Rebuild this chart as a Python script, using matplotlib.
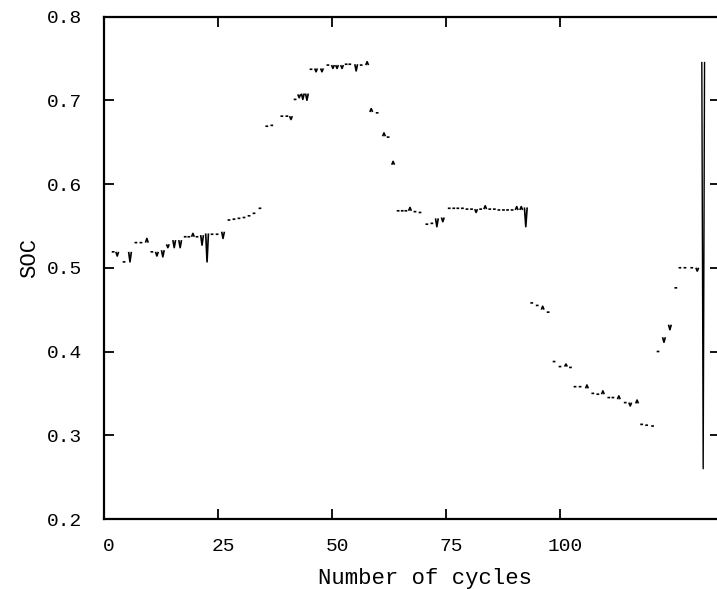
import matplotlib
matplotlib.use("Agg")
import matplotlib.pyplot as plt
from matplotlib.transforms import ScaledTranslation
import numpy as np

# one short dash per recorded cycle: cycle position, SOC level and the size
# of the little dip (<0) or spike (>0) inside the dash (0 = flat dash)
cycles = [2.0, 2.9, 4.4, 5.7, 7.0, 8.1, 9.4, 10.5, 11.6, 12.9,
          14.0, 15.4, 16.7, 17.8, 18.6, 19.5, 20.4, 21.5, 22.6, 23.7,
          24.8, 26.1, 27.4, 28.5, 29.6, 30.7, 31.8, 32.9, 34.2, 35.7,
          36.8, 39.0, 40.1, 41.0, 41.9, 42.8, 43.6, 44.5, 45.4, 46.5,
          47.8, 49.1, 50.2, 51.1, 52.2, 53.1, 53.9, 55.3, 56.4, 57.7,
          58.6, 59.9, 61.4, 62.3, 63.4, 64.5, 65.4, 66.2, 67.1, 68.2,
          69.3, 70.8, 71.9, 73.0, 74.3, 75.7, 76.7, 77.6, 78.6, 79.6,
          80.6, 81.6, 82.6, 83.6, 84.6, 85.6, 86.6, 87.6, 88.5, 89.5,
          90.5, 91.5, 92.5, 93.8, 95.0, 96.2, 97.4, 98.7, 100.0, 101.3,
          102.3, 103.3, 104.4, 105.9, 107.2, 108.3, 109.4, 110.7, 111.6, 112.9,
          114.3, 115.4, 116.9, 117.9, 119.0, 120.3, 121.5, 122.8, 124.1, 125.4,
          126.3, 127.4, 128.9, 130.1]
soc = [0.519, 0.519, 0.507, 0.519, 0.530, 0.530, 0.530, 0.519, 0.519, 0.521,
       0.528, 0.533, 0.533, 0.537, 0.537, 0.537, 0.537, 0.539, 0.541, 0.540,
       0.540, 0.543, 0.557, 0.558, 0.559, 0.560, 0.562, 0.565, 0.571, 0.669,
       0.670, 0.681, 0.681, 0.681, 0.701, 0.707, 0.708, 0.708, 0.737, 0.738,
       0.738, 0.742, 0.742, 0.742, 0.742, 0.743, 0.743, 0.743, 0.742, 0.742,
       0.686, 0.685, 0.657, 0.656, 0.623, 0.568, 0.568, 0.568, 0.568, 0.567,
       0.566, 0.552, 0.553, 0.559, 0.560, 0.571, 0.571, 0.571, 0.571, 0.570,
       0.570, 0.570, 0.570, 0.570, 0.570, 0.570, 0.569, 0.569, 0.569, 0.569,
       0.569, 0.569, 0.572, 0.458, 0.455, 0.450, 0.447, 0.388, 0.382, 0.382,
       0.381, 0.358, 0.358, 0.356, 0.350, 0.349, 0.349, 0.345, 0.345, 0.343,
       0.339, 0.339, 0.338, 0.313, 0.312, 0.311, 0.400, 0.417, 0.432, 0.476,
       0.500, 0.500, 0.500, 0.500]
spike = [0, -0.005, 0, -0.012, 0, 0, 0.005, 0, -0.005, -0.008,
         -0.004, -0.009, -0.009, 0, 0, 0.004, 0, -0.012, -0.034, 0,
         0, -0.008, 0, 0, 0, 0, 0, 0, 0, 0,
         0, 0, 0, -0.004, 0, -0.004, -0.007, -0.008, 0, -0.004,
         -0.004, 0, -0.004, -0.004, -0.004, 0, 0, -0.008, 0, 0.004,
         0.004, 0, 0.004, 0, 0.004, 0, 0, 0, 0.004, 0,
         0, 0, 0, -0.010, -0.005, 0, 0, 0, 0, 0,
         0, -0.004, 0, 0.004, 0, 0, 0, 0, 0, 0,
         0.004, 0.004, -0.023, 0, 0, 0.004, 0, 0, 0, 0.003,
         0, 0, 0, 0.004, 0, 0, 0.004, 0, 0, 0.004,
         0, -0.004, 0.004, 0, 0, 0, 0, -0.006, -0.006, 0,
         0, 0, 0, -0.004]

# the big swing at the end of the record
end_cycles = [131.1, 131.4, 131.7]
end_soc = [0.745, 0.26, 0.745]

yticks = [0.2, 0.3, 0.4, 0.5, 0.6, 0.7, 0.8]
xticks = [0, 25, 50, 75, 100]


def build_path(x, y, s, half=0.3):
    xs, ys = [], []
    for xi, yi, si in zip(x, y, s):
        if si == 0:
            xs += [xi - half, xi + half, np.nan]
            ys += [yi, yi, np.nan]
        else:
            xs += [xi - half, xi, xi + half, np.nan]
            ys += [yi, yi + si, yi, np.nan]
    return xs, ys


def main():
    plt.rcParams['font.family'] = ['Liberation Mono', 'DejaVu Sans Mono']

    fig = plt.figure(figsize=(7.17, 5.89), dpi=100)
    ax = fig.add_axes([104 / 717, 70 / 589, 615.6 / 717, 502.5 / 589])

    xs, ys = build_path(cycles, soc, spike)
    ax.plot(xs, ys, color='black', linewidth=1.2, solid_capstyle='butt')
    ax.plot(end_cycles, end_soc, color='black', linewidth=1.0)

    ax.set_xlim(0, 135)
    ax.set_ylim(0.2, 0.8)
    ax.set_xticks(xticks)
    ax.set_yticks(yticks)
    ax.set_yticklabels(['%.1f' % v for v in yticks])

    ax.tick_params(direction='in', length=7, width=1.3, labelsize=14,
                   top=True, right=True)
    ax.tick_params(axis='x', pad=14)
    ax.tick_params(axis='y', pad=16)
    for sp in ax.spines.values():
        sp.set_linewidth(1.6)

    # tick labels sit a little right of their ticks in the original
    shift = ScaledTranslation(5 / 100, 0, fig.dpi_scale_trans)
    for lab in ax.get_xticklabels():
        lab.set_transform(lab.get_transform() + shift)

    ax.set_xlabel('Number of cycles', fontsize=16)
    ax.set_ylabel('SOC', fontsize=16)
    ax.xaxis.set_label_coords(0.521, -0.098)
    ax.yaxis.set_label_coords(-0.104, 0.519)

    fig.savefig('out.png', dpi=100)


if __name__ == "__main__":
    main()
